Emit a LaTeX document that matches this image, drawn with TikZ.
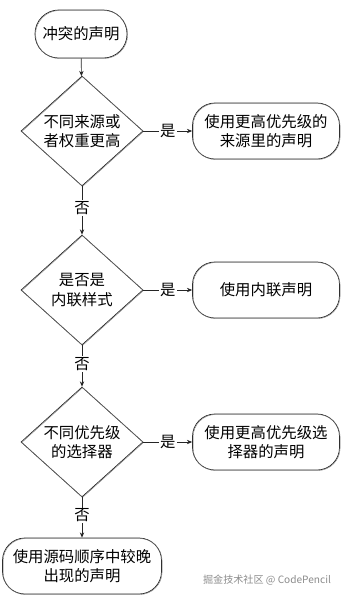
\documentclass[tikz,border=0pt]{standalone}
\usepackage{fontspec}
\setmainfont{Noto Sans CJK SC}
\usepackage{tikz}
\usetikzlibrary{arrows.meta,positioning,shapes.geometric}

\begin{document}
\begin{tikzpicture}[x=0.04cm,y=-0.04cm,>={Stealth[length=6pt,width=5pt]},
  font=\fontsize{17.5}{22}\selectfont,
  sketch/.style={draw=black!85,line width=.8pt,
    postaction={draw=black!55,line width=.4pt,transform canvas={xshift=.7pt,yshift=-.6pt}}},
  term/.style={sketch,rounded corners=0.95cm,minimum width=3.68cm,minimum height=1.92cm,align=center},
  act/.style={sketch,rounded corners=0.9cm,minimum width=5.88cm,minimum height=2.24cm,align=center,inner sep=2pt},
  dec/.style={sketch,diamond,aspect=1.1,minimum width=4.88cm,minimum height=4.4cm,align=center,inner sep=0pt},
  flow/.style={->,draw=black!85,line width=.8pt},
  lbl/.style={fill=white,inner sep=1.5pt}]
 \useasboundingbox (0,0) rectangle (345,598);
 % start and decisions down the left
 \node[term] (start) at (81,34) {冲突的声明};
 \node[dec] (q1) at (82,131) {不同来源或\\者权重更高};
 \node[dec] (q2) at (82,290) {是否是\\内联样式};
 \node[dec] (q3) at (82,442) {不同优先级\\的选择器};
 \node[act,minimum width=6.36cm] (last) at (82,566) {使用源码顺序中较晚\\出现的声明};
 % outcomes on the right
 \node[act] (a1) at (266,131) {使用更高优先级的\\来源里的声明};
 \node[act] (a2) at (266,290) {使用内联声明};
 \node[act] (a3) at (266,442) {使用更高优先级选\\择器的声明};
 % connectors
 \draw[flow] (start) -- (q1);
 \draw[flow] (q1) -- node[lbl,pos=.45]{否} (q2);
 \draw[flow] (q2) -- node[lbl,pos=.45]{否} (q3);
 \draw[flow] (q3) -- node[lbl,pos=.45]{否} (last);
 \foreach \i in {1,2,3}
   \draw[flow] (q\i) -- node[lbl]{是} (a\i);
 \node[text=black!45,font=\fontsize{11.5}{13}\selectfont] (mark) at (267,580) {掘金技术社区 @ CodePencil};
\end{tikzpicture}
\end{document}
